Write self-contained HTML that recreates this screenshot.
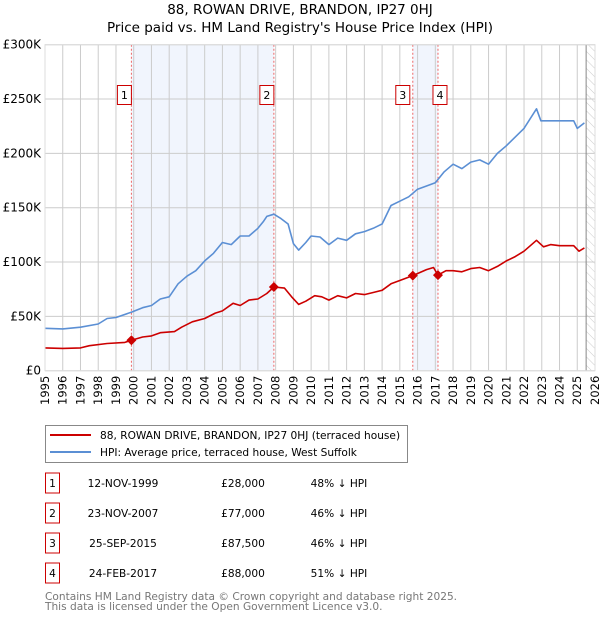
<!DOCTYPE html>
<html><head><meta charset="utf-8"><style>
body{margin:0;background:#fff;font-family:"DejaVu Sans","Liberation Sans",sans-serif;}
svg text{font-family:"DejaVu Sans","Liberation Sans",sans-serif;}
</style></head><body>
<svg id="chart" width="600" height="620" xmlns="http://www.w3.org/2000/svg">
<defs>
<pattern id="hatch" width="6" height="6" patternUnits="userSpaceOnUse" patternTransform="rotate(-45)">
<line x1="0" y1="0" x2="0" y2="6" stroke="#ccc" stroke-width="1"/></pattern>
</defs>
<text x="300" y="14" text-anchor="middle" font-size="13.5">88, ROWAN DRIVE, BRANDON, IP27 0HJ</text>
<text x="300" y="32" text-anchor="middle" font-size="13.5">Price paid vs. HM Land Registry's House Price Index (HPI)</text>
<g id="plot"></g>
<g id="legend">
<rect x="45.5" y="425.5" width="362" height="37" fill="#fff" stroke="#888"/>
<line x1="50" y1="435" x2="91" y2="435" stroke="#cc0000" stroke-width="2"/>
<text x="100" y="439" font-size="10.6">88, ROWAN DRIVE, BRANDON, IP27 0HJ (terraced house)</text>
<line x1="50" y1="452" x2="91" y2="452" stroke="#5b8fd4" stroke-width="2"/>
<text x="100" y="456" font-size="10.6">HPI: Average price, terraced house, West Suffolk</text>
</g>
<g id="table"></g>
<text x="45" y="600" font-size="10.6" fill="#777">Contains HM Land Registry data © Crown copyright and database right 2025.</text>
<text x="45" y="610" font-size="10.6" fill="#777">This data is licensed under the Open Government Licence v3.0.</text>
</svg>
<script>
const hpiYears=[1995,1996,1997,1998,1998.5,1999,1999.9,2000.5,2001,2001.5,2002,2002.5,2003,2003.5,2004,2004.5,2005,2005.5,2006,2006.5,2007,2007.3,2007.5,2007.9,2008.3,2008.7,2009.0,2009.3,2009.7,2010,2010.5,2011,2011.5,2012,2012.5,2013,2013.5,2014,2014.5,2015,2015.5,2016,2016.5,2017,2017.5,2018,2018.5,2019,2019.5,2020,2020.5,2021,2021.5,2022,2022.7,2022.95,2023.3,2024,2024.8,2025,2025.4];
const hpiValues=[39,38.5,40,43,48,49,54,58,60,66,68,80,87,92,101,108,118,116,124,124,131,137,142,144,140,135,117,111,118,124,123,116,122,120,126,128,131,135,152,156,160,167,170,173,183,190,186,192,194,190,200,207,215,223,241,230,230,230,230,223,228];
const ppYears=[1995,1996,1997,1997.5,1998.5,1999.5,1999.87,2000.5,2001,2001.5,2002.3,2002.7,2003.3,2004,2004.6,2005,2005.6,2006,2006.5,2007,2007.5,2007.9,2008.5,2008.9,2009.3,2009.7,2010.2,2010.6,2011,2011.5,2012,2012.5,2013,2013.5,2014,2014.5,2015,2015.73,2016.5,2016.9,2017.15,2017.6,2018,2018.5,2019,2019.5,2020,2020.5,2021,2021.5,2022,2022.7,2023.1,2023.5,2024,2024.8,2025.1,2025.4];
const ppValues=[21,20.5,21,23,25,26,28,31,32,35,36,40,45,48,53,55,62,60,65,66,71,77,76,68,61,64,69,68,65,69,67,71,70,72,74,80,83,87.5,93,95,88,92,92,91,94,95,92,96,101,105,110,120,114,116,115,115,110,113];
const saleLabels=["1","2","3","4"];
const saleYears=[1999.87,2007.9,2015.73,2017.15];
const salePrices=[28,77,87.5,88];
const saleDates=["12-NOV-1999","23-NOV-2007","25-SEP-2015","24-FEB-2017"];
const salePriceText=["£28,000","£77,000","£87,500","£88,000"];
const saleDiffs=["48% ↓ HPI","46% ↓ HPI","46% ↓ HPI","51% ↓ HPI"];
const yTicks=[0,50,100,150,200,250,300];
const yTickLabels=["£0","£50K","£100K","£150K","£200K","£250K","£300K"];
const xTicks=[1995,1996,1997,1998,1999,2000,2001,2002,2003,2004,2005,2006,2007,2008,2009,2010,2011,2012,2013,2014,2015,2016,2017,2018,2019,2020,2021,2022,2023,2024,2025,2026];

const X0=45,X1=595,Y0=370.7,Y1=44.7;
const xs=y=>X0+(y-1995)/(2026-1995)*(X1-X0);
const ys=v=>Y0-v/300*(Y0-Y1);
const NS="http://www.w3.org/2000/svg";
const plot=document.getElementById('plot');
function mk(tag,attrs,parent){const e=document.createElementNS(NS,tag);for(const k in attrs)e.setAttribute(k,attrs[k]);(parent||plot).appendChild(e);return e;}

let bg=mk('rect',{x:X0,y:Y1,width:X1-X0,height:Y0-Y1,fill:'#fff'});


for(let i=0;i<saleYears.length;i+=2){
 let s=mk('rect',{x:xs(saleYears[i]),y:Y1,width:xs(saleYears[i+1])-xs(saleYears[i]),height:Y0-Y1,fill:'#eef3fc',opacity:0.8});
 
 
}
const hx=xs(2025.5);
let h=mk('rect',{x:hx,y:Y1,width:X1-hx,height:Y0-Y1,fill:'url(#hatch)'});


xTicks.forEach((t,i)=>{
 let l=mk('line',{x1:xs(t),x2:xs(t),y1:Y1,y2:Y0,stroke:'#ccc','stroke-width':1});
 
 
 const tx0=xs(t)+4,ty0=Y0+5;
 let tx=mk('text',{x:tx0,y:ty0,'text-anchor':'end','font-size':11.5,transform:`rotate(-90 ${tx0} ${ty0})`});
 tx.textContent=t;
 
 
});
yTicks.forEach((t,i)=>{
 let l=mk('line',{x1:X0,x2:X1,y1:ys(t),y2:ys(t),stroke:'#ccc','stroke-width':1});
 
 
 let tx=mk('text',{x:X0-4,y:ys(t)+4,'text-anchor':'end','font-size':12});
 tx.textContent=yTickLabels[i];
 
 
});
let dl=mk('line',{x1:hx,x2:hx,y1:Y1,y2:Y0,stroke:'#888','stroke-width':1});


saleYears.forEach((y,i)=>{
 let l=mk('line',{x1:xs(y),x2:xs(y),y1:Y1,y2:Y0,stroke:'#e66','stroke-width':1,'stroke-dasharray':'2,2'});
 
 
 const bx=xs(y)-(i==2?10:i==3?-2:7)-7;
 let r=mk('rect',{x:bx,y:85.5,width:14,height:19,fill:'#fff',stroke:'#c00'});
 
 
 let t=mk('text',{x:bx+7,y:99,'text-anchor':'middle','font-size':11});
 t.textContent=saleLabels[i];
 
 
});
function path(xsArr,vArr,col,name){
 let d=xsArr.map((y,i)=>(i?'L':'M')+xs(y).toFixed(1)+','+ys(vArr[i]).toFixed(1)).join(' ');
 let p=mk('path',{d:d,fill:'none',stroke:col,'stroke-width':1.6,'stroke-linejoin':'round'});
 
 
}
path(hpiYears,hpiValues,'#5b8fd4','hpi-line');
path(ppYears,ppValues,'#cc0000','property-price-line');
saleYears.forEach((y,i)=>{
 const cx=xs(y),cy=ys(salePrices[i]);
 let m=mk('path',{d:`M${cx},${cy-5}L${cx+5},${cy}L${cx},${cy+5}L${cx-5},${cy}Z`,fill:'#cc0000'});
 
 
});
let fr=mk('rect',{x:X0,y:Y1,width:X1-X0,height:Y0-Y1,fill:'none',stroke:'#ddd'});


const tbl=document.getElementById('table');
saleLabels.forEach((lab,i)=>{
 const cy=483+i*30;
 let r=mk('rect',{x:45.5,y:cy-10,width:14,height:20,fill:'#fff',stroke:'#c00'},tbl);
 
 
 const cells=[[52.5,lab,'middle'],[123,saleDates[i],'middle'],[243,salePriceText[i],'middle'],[339,saleDiffs[i],'middle']];
 cells.forEach(c=>{
  let t=mk('text',{x:c[0],y:cy+4,'text-anchor':c[2],'font-size':10.6},tbl);
  t.textContent=c[1];
  
  
 });
});
</script>
</body></html>
